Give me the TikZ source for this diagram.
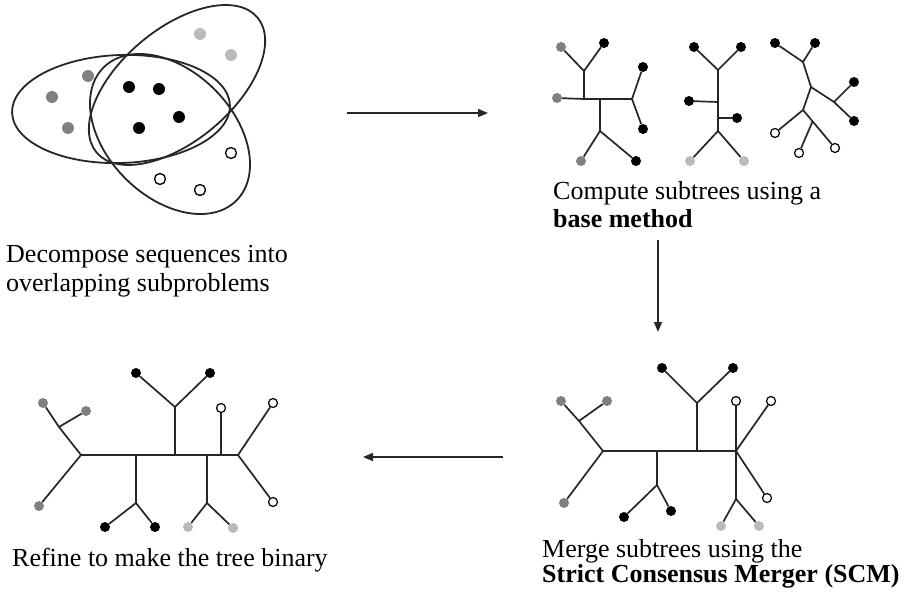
\documentclass[tikz,border=0pt]{standalone}
\usepackage{fontspec}
\setmainfont{Liberation Serif}
\usetikzlibrary{arrows.meta,calc}
\begin{document}
\begin{tikzpicture}[x=1pt,y=-1pt,
  edge/.style={line width=1.7pt, draw=black!85},
  blk/.style={circle, fill=black, inner sep=0pt, minimum size=10pt},
  gry/.style={circle, fill=black!50, inner sep=0pt, minimum size=10pt},
  lgr/.style={circle, fill=black!27, inner sep=0pt, minimum size=10pt},
  wht/.style={circle, draw=black, line width=1.2pt, fill=white, inner sep=0pt, minimum size=9pt},
  bblk/.style={circle, fill=black, inner sep=0pt, minimum size=12pt},
  bgry/.style={circle, fill=black!50, inner sep=0pt, minimum size=12pt},
  blgr/.style={circle, fill=black!27, inner sep=0pt, minimum size=12pt},
  bwht/.style={circle, draw=black, line width=1.3pt, fill=white, inner sep=0pt, minimum size=11pt},
  lbl/.style={anchor=base west, inner sep=0pt, font=\fontsize{26}{30}\selectfont},
  flow/.style={line width=1.6pt, draw=black!85, -{Triangle[length=10pt,width=8pt]}},
  setline/.style={line width=1.8pt, draw=black!85}]
\useasboundingbox (0,0) rectangle (908,599);

% ---- overlapping subproblems (ellipses)
\draw[setline, shift={(121,109)}, rotate=2] (0,0) ellipse [x radius=109pt, y radius=54pt];
\draw[setline, shift={(177,85)}, rotate=40] (0,0) ellipse [x radius=105pt, y radius=56pt];
\draw[setline, shift={(170,134)}, rotate=-45] (0,0) ellipse [x radius=94pt, y radius=63pt];
\node[bgry] (eg1) at (88,76) {};
\node[bgry] (eg2) at (52,97) {};
\node[bgry] (eg3) at (68,128) {};
\node[blgr] (el1) at (200,34) {};
\node[blgr] (el2) at (231,55) {};
\node[bblk] (eb1) at (129,87) {};
\node[bblk] (eb2) at (159,89) {};
\node[bblk] (eb3) at (179,117) {};
\node[bblk] (eb4) at (139,128) {};
\node[bwht] (ew1) at (231,153) {};
\node[bwht] (ew2) at (160,179) {};
\node[bwht] (ew3) at (200,190) {};

% ---- subtree 1
\node[gry] (t1a) at (561,47) {};
\node[blk] (t1b) at (604,43) {};
\coordinate (t1n1) at (584,71);
\node[gry] (t1c) at (557,98) {};
\coordinate (t1n2) at (584,99);
\coordinate (t1n3) at (600,99);
\coordinate (t1n4) at (632,99);
\node[blk] (t1d) at (643,67) {};
\node[blk] (t1e) at (643,129) {};
\coordinate (t1n5) at (600,131);
\node[gry] (t1f) at (581,161) {};
\node[blk] (t1g) at (636,161) {};
\draw[edge] (t1a)--(t1n1)--(t1b) (t1n1)--(t1n2) (t1c)--(t1n2)--(t1n3)--(t1n4)
  (t1n4)--(t1d) (t1n4)--(t1e) (t1n3)--(t1n5) (t1n5)--(t1f) (t1n5)--(t1g);

% ---- subtree 2
\node[blk] (t2h) at (694,47) {};
\node[blk] (t2i) at (741,47) {};
\coordinate (t2m1) at (718,70);
\node[blk] (t2j) at (689,101) {};
\coordinate (t2m2) at (718,102);
\node[blk] (t2k) at (737,118) {};
\coordinate (t2m3) at (718,118);
\coordinate (t2m4) at (718,131);
\node[lgr] (t2l) at (690,161) {};
\node[lgr] (t2m) at (744,161) {};
\draw[edge] (t2h)--(t2m1)--(t2i) (t2m1)--(t2m2)--(t2m3)--(t2m4)
  (t2j)--(t2m2) (t2k)--(t2m3) (t2m4)--(t2l) (t2m4)--(t2m);

% ---- subtree 3
\node[blk] (t3p) at (775,43) {};
\node[blk] (t3q) at (815,43) {};
\coordinate (t3q1) at (803,62);
\coordinate (t3q2) at (811,87);
\coordinate (t3q3) at (834,102);
\node[blk] (t3r) at (854,82) {};
\node[blk] (t3s) at (854,121) {};
\coordinate (t3q4) at (803,110);
\node[wht] (t3t) at (775,133) {};
\node[wht] (t3u) at (799,153) {};
\node[wht] (t3v) at (835,148) {};
\coordinate (t3q5) at ($(t3q4)!0.3!(t3v)$);
\draw[edge] (t3p)--(t3q1)--(t3q) (t3q1)--(t3q2)--(t3q3) (t3q3)--(t3r) (t3q3)--(t3s)
  (t3q2)--(t3q4) (t3q4)--(t3t) (t3q4)--(t3v) (t3u)--(t3q5);

% ---- SCM merged tree
\node[gry] (ma) at (561,401) {};
\node[gry] (mb) at (607,401) {};
\coordinate (mr1) at (579,421);
\coordinate (mr2) at (603,451);
\node[gry] (mc) at (564,503) {};
\coordinate (mr3) at (657,451);
\coordinate (mr4) at (697,451);
\coordinate (mr5) at (736,451);
\node[blk] (md) at (662,368) {};
\node[blk] (me) at (733,368) {};
\coordinate (mr6) at (697,403);
\node[wht] (mf) at (736,401) {};
\node[wht] (mg) at (771,401) {};
\node[wht] (mh) at (767,498) {};
\coordinate (mr7) at (657,485);
\node[blk] (mi) at (624,517) {};
\node[blk] (mj) at (671,511) {};
\coordinate (mr8) at (736,499);
\node[lgr] (mk) at (721,526) {};
\node[lgr] (ml) at (759,526) {};
\draw[edge] (ma)--(mr1)--(mb) (mr1)--(mr2) (mr2)--(mc) (mr2)--(mr3)--(mr4)--(mr5)
  (mr3)--(mr7) (mr7)--(mi) (mr7)--(mj) (mr4)--(mr6) (mr6)--(md) (mr6)--(me)
  (mr5)--(mf) (mr5)--(mg) (mr5)--(mh) (mr5)--(mr8) (mr8)--(mk) (mr8)--(ml);

% ---- refined binary tree
\node[gry] (ba) at (43,403) {};
\node[gry] (bb) at (86,411) {};
\coordinate (bs1) at (59,427);
\coordinate (bs2) at (81,455);
\node[gry] (bc) at (39,506) {};
\coordinate (bs3) at (136,455);
\coordinate (bs4) at (175,455);
\coordinate (bs5) at (207,455);
\coordinate (bs6) at (221,455);
\coordinate (bs7) at (238,455);
\node[blk] (bd) at (136,373) {};
\node[blk] (be) at (210,373) {};
\coordinate (bs8) at (175,407);
\node[wht] (bf) at (221,408) {};
\node[wht] (bg) at (273,403) {};
\node[wht] (bh) at (273,502) {};
\coordinate (bs9) at (136,503);
\coordinate (bs10) at (207,503);
\node[blk] (bi) at (105,527) {};
\node[blk] (bj) at (155,527) {};
\node[lgr] (bk) at (188,527) {};
\node[lgr] (bl) at (233,528) {};
\draw[edge] (ba)--(bs1)--(bb) (bs1)--(bs2) (bs2)--(bc) (bs2)--(bs3)--(bs4)--(bs5)--(bs6)--(bs7)
  (bs7)--(bg) (bs7)--(bh) (bs6)--(bf) (bs4)--(bs8) (bs8)--(bd) (bs8)--(be)
  (bs3)--(bs9) (bs9)--(bi) (bs9)--(bj) (bs5)--(bs10) (bs10)--(bk) (bs10)--(bl);

% ---- flow arrows
\coordinate (f1s) at (347,113);
\coordinate (f1e) at (488,113);
\coordinate (f2s) at (658,240);
\coordinate (f2e) at (658,332);
\coordinate (f3s) at (503,457);
\coordinate (f3e) at (363,457);
\draw[flow] (f1s) -- (f1e);
\draw[flow] (f2s) -- (f2e);
\draw[flow] (f3s) -- (f3e);

% ---- labels
\node[lbl] (tdec1) at (6,262) {Decompose sequences into};
\node[lbl] (tdec2) at (6,291) {overlapping subproblems};
\node[lbl] (tcomp1) at (553,200) {Compute subtrees using a};
\node[lbl] (tcomp2) at (553,227) {\bfseries base method};
\node[lbl] (tref) at (12,566) {Refine to make the tree binary};
\node[lbl] (tmer1) at (542,557) {Merge subtrees using the};
\node[lbl] (tmer2) at (542,582) {\bfseries Strict Consensus Merger (SCM)};
\end{tikzpicture}
\end{document}
